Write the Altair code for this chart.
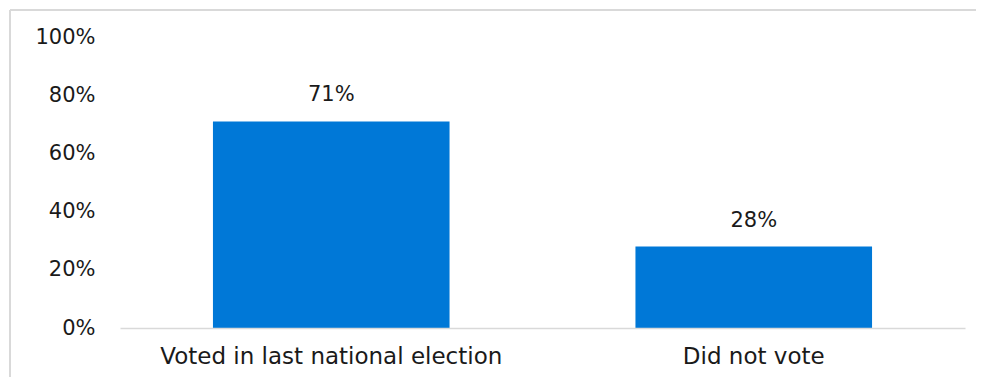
import altair as alt
import pandas as pd

categories = ["Voted in last national election", "Did not vote"]
values = [0.71, 0.28]
labels = ["71%", "28%"]

df = pd.DataFrame({"cat": categories, "val": values, "lab": labels})

FONT = "DejaVu Sans"
FS = 21
W, H = 845, 291

x_enc = alt.X("cat:N", sort=categories, title=None,
              scale=alt.Scale(paddingInner=0.44, paddingOuter=0.22),
              axis=alt.Axis(labelAngle=0, labelFontSize=23, labelFont=FONT,
                            labelColor="#1a1a1a", labelPadding=17, ticks=False,
                            labelLimit=0, labelFontWeight="normal",
                            domainColor="#d9d9d9", domainWidth=1.5, grid=False,
                            zindex=1))
y_enc = alt.Y("val:Q", title=None,
              scale=alt.Scale(domain=[0, 1]),
              axis=alt.Axis(format="%", values=[0, 0.2, 0.4, 0.6, 0.8, 1.0],
                            labelFontSize=FS, labelFont=FONT, labelColor="#1a1a1a",
                            ticks=False, domain=False, grid=False, labelPadding=25,
                            zindex=1))

top_line = alt.Chart(df).mark_rule(color="#d9d9d9", strokeWidth=2).encode(
    x=alt.value(-110), x2=alt.value(2000), y=alt.value(-27)
)
left_line = alt.Chart(df).mark_rule(color="#d9d9d9", strokeWidth=2).encode(
    x=alt.value(-110), y=alt.value(-27), y2=alt.value(2000)
)

bars = alt.Chart(df).mark_bar(color="#0078D7").encode(x=x_enc, y=y_enc)
text = alt.Chart(df).mark_text(baseline="bottom", dy=-16, fontSize=FS, font=FONT,
                               color="#1a1a1a").encode(
    x=alt.X("cat:N", sort=categories), y="val:Q", text="lab:N")

chart = alt.layer(bars, text, top_line, left_line).properties(
    width=W, height=H,
    autosize=alt.AutoSizeParams(type="none"),
    padding={"left": 112, "top": 29, "right": 11, "bottom": 49},
).configure_view(stroke=None)

chart.save("out.html", embed_options={"renderer": "svg", "actions": False})
